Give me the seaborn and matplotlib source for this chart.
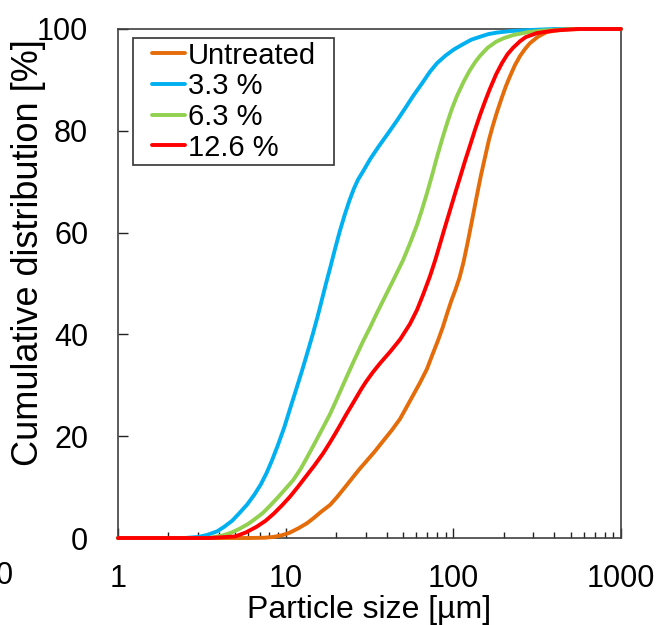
import numpy as np
import pandas as pd
import matplotlib
matplotlib.use("Agg")
import matplotlib.pyplot as plt
from matplotlib.lines import Line2D
from matplotlib.legend_handler import HandlerLine2D
from matplotlib.ticker import LogLocator, NullFormatter
import seaborn as sns

# Cumulative particle size distributions (size in µm, cumulative share in %)
size_untreated = [1, 6, 7.5, 8.4, 9.4, 10.5, 11.9, 13.4, 14.8, 16.2,
                  18.4, 20.2, 22.5, 25, 27.5, 30.5, 34, 38, 43, 48.1,
                  53, 57, 63, 69.6, 75, 81, 86.7, 92, 97, 103,
                  109, 115, 122, 130, 138, 146, 155, 163, 172, 183,
                  195, 206, 217, 233, 250, 268, 286, 320, 361, 450,
                  600, 1000]
cum_untreated = [0, 0, 0.05, 0.2, 0.5, 1.0, 1.9, 2.9, 4.0, 5.1,
                 6.5, 8.0, 9.9, 11.8, 13.5, 15.2, 17.0, 19.0, 21.2, 23.4,
                 25.9, 27.8, 30.4, 33.2, 36.0, 38.8, 41.5, 44.2, 46.5, 48.8,
                 51.2, 54.2, 58.2, 62.8, 67.2, 71.2, 75.0, 78.2, 81.0, 83.9,
                 86.6, 88.8, 90.6, 92.9, 94.7, 96.1, 97.2, 98.5, 99.4, 99.9,
                 100, 100]

size_33 = [1, 2.5, 3.0, 3.4, 3.9, 4.3, 4.8, 5.3, 5.9, 6.5,
           7.1, 7.7, 8.3, 9.0, 9.8, 10.6, 11.5, 12.5, 13.5, 14.5,
           15.5, 16.5, 17.4, 18.4, 19.7, 21, 22.5, 24, 25.5, 27,
           28.9, 32, 36, 41, 46.1, 52, 58, 65, 72.5, 80,
           90, 101, 114, 128, 145, 162, 182, 220, 286, 400,
           1000]
cum_33 = [0, 0, 0.2, 0.6, 1.3, 2.2, 3.4, 4.9, 6.6, 8.5,
          10.5, 12.8, 15.3, 18.3, 21.7, 25.3, 29.0, 32.8, 36.5, 40.0,
          43.5, 47.0, 50.0, 53.0, 56.8, 60.2, 63.5, 66.3, 68.6, 70.4,
          72.0, 74.5, 77.0, 79.6, 82.0, 84.6, 87.0, 89.3, 91.6, 93.3,
          94.8, 96.0, 97.0, 97.9, 98.5, 99.0, 99.3, 99.6, 99.8, 100,
          100]

size_63 = [1, 3.5, 4.2, 4.7, 5.3, 6.0, 6.6, 7.3, 8.1, 9.0,
           10.0, 11.1, 12.3, 13.5, 15.0, 16.7, 18.3, 20, 22.5, 25.2,
           28.9, 32, 35, 39, 43.6, 50, 55, 60.7, 65, 70,
           75, 79.8, 86, 92, 98, 105, 115, 125, 135, 144,
           160, 180, 200, 227, 280, 342, 500, 1000]
cum_63 = [0, 0, 0.5, 1.0, 1.8, 2.8, 3.8, 4.9, 6.4, 8.0,
          9.7, 11.4, 13.6, 16.0, 18.8, 21.7, 24.2, 27.0, 30.8, 34.4,
          38.6, 41.5, 44.2, 47.3, 50.5, 54.5, 57.8, 61.5, 64.5, 68.0,
          71.5, 74.8, 78.5, 81.6, 84.3, 86.8, 89.6, 91.8, 93.5, 94.7,
          96.3, 97.5, 98.2, 98.8, 99.4, 99.7, 100, 100]

size_126 = [1, 3.5, 5, 5.8, 6.7, 7.6, 8.5, 9.5, 10.6, 11.8,
            13, 14.8, 16.7, 18.4, 20, 21.5, 23, 24.8, 26.6, 28.3,
            30, 33, 36.5, 42, 48.1, 55, 60.7, 66, 72.5, 78,
            83, 89, 95.4, 102, 110, 118, 126, 135, 145, 155,
            165, 180, 195, 210, 227, 250, 270, 315, 400, 550,
            1000]
cum_126 = [0, 0, 0.3, 1.1, 2.2, 3.4, 4.8, 6.4, 8.1, 10.0,
           11.8, 14.2, 16.6, 18.8, 20.8, 22.6, 24.3, 26.1, 27.8, 29.3,
           30.6, 32.5, 34.3, 36.6, 39.0, 42.0, 44.8, 47.8, 51.4, 54.6,
           57.6, 61.0, 64.3, 67.5, 71.0, 74.3, 77.2, 80.3, 83.3, 85.9,
           88.2, 91.1, 93.3, 95.0, 96.3, 97.6, 98.4, 99.2, 99.7, 100,
           100]

series_names = ["Untreated", "3.3 %", "6.3 %", "12.6 %"]
series_colors = ["#E46C0A", "#00B0F0", "#92D050", "#FF0000"]

x_ticks = [1, 10, 100, 1000]
x_tick_labels = ["1", "10", "100", "1000"]
y_ticks = [0, 20, 40, 60, 80, 100]

frames = []
for name, xs, ys in zip(series_names,
                        [size_untreated, size_33, size_63, size_126],
                        [cum_untreated, cum_33, cum_63, cum_126]):
    frames.append(pd.DataFrame({"size": xs, "cum": ys, "sample": name}))
df = pd.concat(frames, ignore_index=True)

sns.set_theme(style="ticks")
plt.rcParams["font.family"] = ["Liberation Sans", "DejaVu Sans"]
plt.rcParams["text.color"] = "black"

fig = plt.figure(figsize=(6.6, 6.25), dpi=100)
ax = fig.add_axes([118 / 660, 1 - 538 / 625, 503 / 660, 509 / 625])

palette = dict(zip(series_names, series_colors))
sns.lineplot(data=df, x="size", y="cum", hue="sample", hue_order=series_names,
             palette=palette, estimator=None, sort=False, linewidth=2.8,
             legend=False, ax=ax)
for ln in ax.get_lines():
    ln.set_clip_on(False)
    ln.set_zorder(3)
    ln.set_solid_joinstyle("round")

ax.set_xscale("log")
ax.set_xlim(1, 1000)
ax.set_ylim(0, 100)
ax.set_xticks(x_ticks, labels=x_tick_labels)
ax.xaxis.set_minor_locator(LogLocator(base=10, subs=np.arange(2, 10)))
ax.xaxis.set_minor_formatter(NullFormatter())
ax.set_yticks(y_ticks)

ax.tick_params(axis="both", which="major", direction="in", length=7, width=1.0,
               color="#222222", labelsize=22, labelcolor="black")
ax.tick_params(axis="x", which="major", pad=18.5)
ax.tick_params(axis="y", which="major", pad=21.5)
ax.tick_params(axis="x", which="minor", direction="in", length=4.5, width=1.0, color="#222222")
ax.tick_params(top=False, right=False, which="both")

for side in ["left", "right", "top", "bottom"]:
    ax.spines[side].set_visible(True)
    ax.spines[side].set_color("#404040")
    ax.spines[side].set_linewidth(1.2)

ax.set_xlabel("Particle size [µm]", fontsize=23, color="black")
ax.set_ylabel("Cumulative distribution [%]", fontsize=26, color="black")
ax.xaxis.set_label_coords(0.5, -0.112)
ax.yaxis.set_label_coords(-0.143, 0.56)


class InsetLine(HandlerLine2D):
    """Legend line that starts a little to the right of the handle box."""

    def __init__(self, inset, **kw):
        super().__init__(**kw)
        self.inset = inset

    def create_artists(self, legend, orig_handle, xdescent, ydescent, width, height,
                       fontsize, trans):
        off = self.inset * fontsize
        return super().create_artists(legend, orig_handle, xdescent - off, ydescent,
                                      width - off, height, fontsize, trans)


handles = [Line2D([], [], color=c, linewidth=2.8) for c in series_colors]
leg = ax.legend(handles, series_names, loc="upper left",
                bbox_to_anchor=(0.03, 0.5, 201 / 503, 0.482), mode="expand",
                borderaxespad=0, fontsize=21, handlelength=1.66, handletextpad=0.1,
                labelspacing=0.09, borderpad=0.12, fancybox=False, framealpha=1,
                edgecolor="#333333", labelcolor="black",
                handler_map={Line2D: InsetLine(0.52)})
leg.get_frame().set_linewidth(1.2)

# Tick label of the neighbouring panel that reaches into this figure
fig.text(4 / 660, 1 - 576 / 625, "0", fontsize=22, ha="center", va="center")

fig.savefig("out.png", dpi=100)
